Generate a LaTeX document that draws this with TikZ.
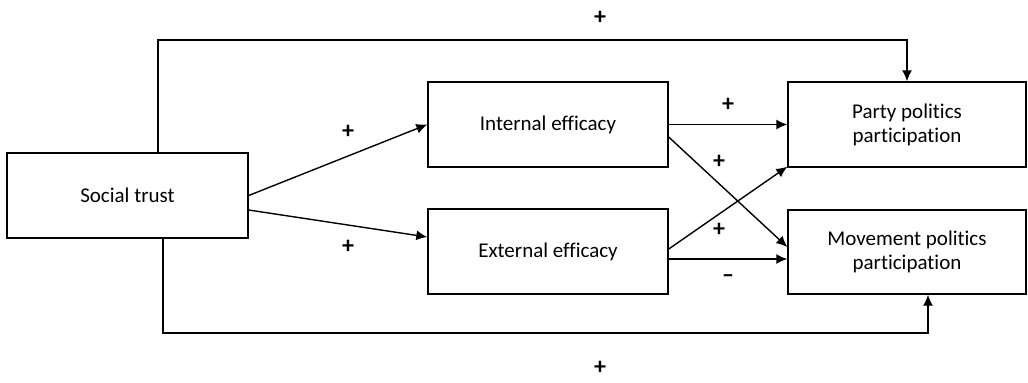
\documentclass[tikz,border=0pt]{standalone}
\usepackage{fontspec}
\setmainfont[Ligatures=NoCommon]{Carlito}
\usetikzlibrary{arrows.meta}
\usetikzlibrary{positioning}
\tikzset{block/.style={draw, line width=0.7pt, text centered, align=center, minimum height=42.5pt, inner sep=2pt, font=\fontsize{10.5}{12}\selectfont}}
\tikzset{connect/.style={draw, line width=0.7pt, -{Latex[length=5.5pt,width=5pt]}}}
\tikzset{sign/.style={inner sep=0pt, font=\fontsize{12}{12}\selectfont\bfseries}}

\begin{document}
\begin{tikzpicture}[x=0.5pt,y=-0.5pt]
\useasboundingbox (0,0) rectangle (1028,382);

\node[block,minimum width=120.5pt] (social) at (127.5,195.5) {Social trust};
\node[block,minimum width=120pt] (internal) at([xshift=210.25pt,yshift=35.5pt]social) {Internal efficacy};
\node[block,minimum width=120pt] (external) at([yshift=-63.5pt]internal) {External efficacy};
\node[block,minimum width=119pt] (party) at([xshift=179.5pt]internal) {Party politics\\participation};
\node[block,minimum width=119pt,minimum height=42pt] (movement) at([yshift=-63.75pt]party) {Movement politics\\participation};

\coordinate (topline) at (600,40);
\coordinate (bottomline) at (600,333);

\path[connect] (social.east) -- node[sign,xshift=5pt,yshift=14pt]{+} (internal.west);
\path[connect] ([yshift=-7.25pt]social.east) -- node[sign,xshift=5pt,yshift=-11.75pt]{+} ([yshift=7.25pt]external.west);

\path[connect] (internal.east) -- node[sign,yshift=10pt]{+} (party.west);
\path[connect] ([yshift=-6.25pt]internal.east) -- node[sign,pos=0.425,yshift=11pt]{+} ([yshift=2.5pt]movement.west);
\path[connect] ([yshift=1.25pt]external.east) -- node[sign,pos=0.425,yshift=-8pt]{+} ([yshift=0.5pt]party.south west);
\path[connect] ([yshift=-3.75pt]external.east) -- node[sign,yshift=-10pt]{–} ([yshift=-3.75pt]external.east -| movement.west);

\path[connect] ([xshift=15.25pt]social.north) |- (topline) node[sign,yshift=11pt]{+} -| (party.north);
\path[connect] ([xshift=17.75pt]social.south) |- (bottomline) node[sign,yshift=-17.5pt]{+} -| ([xshift=10.5pt]movement.south);

\end{tikzpicture}
\end{document}
